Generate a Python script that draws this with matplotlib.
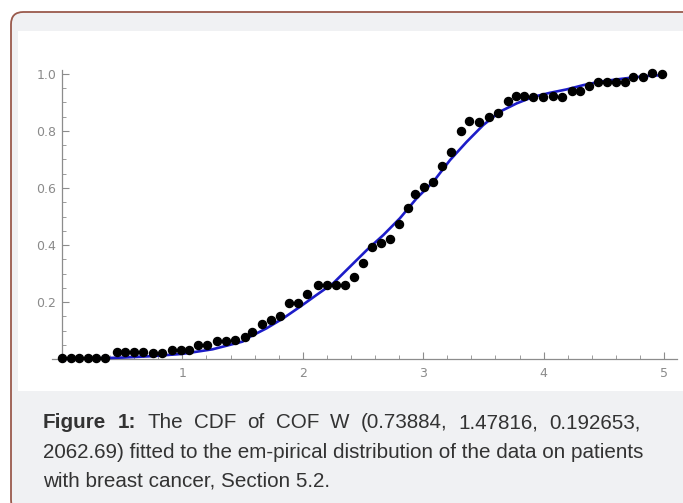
import matplotlib
matplotlib.use("Agg")
import matplotlib.pyplot as plt
from matplotlib.patches import FancyBboxPatch, Rectangle
from matplotlib import font_manager
import numpy as np

# ---------------- data ----------------
emp_x = [0.000, 0.071, 0.141, 0.212, 0.282, 0.353, 0.454, 0.523, 0.598, 0.673,
         0.756, 0.831, 0.911, 0.986, 1.057, 1.132, 1.207, 1.285, 1.362, 1.437,
         1.520, 1.578, 1.657, 1.733, 1.811, 1.885, 1.958, 2.032, 2.124, 2.199,
         2.276, 2.350, 2.425, 2.500, 2.572, 2.647, 2.724, 2.799, 2.876, 2.932,
         3.007, 3.084, 3.159, 3.231, 3.311, 3.383, 3.463, 3.546, 3.624, 3.702,
         3.768, 3.840, 3.915, 3.993, 4.076, 4.150, 4.233, 4.302, 4.377, 4.449,
         4.524, 4.601, 4.676, 4.745, 4.823, 4.898, 4.986]
emp_y = [0.004, 0.005, 0.005, 0.005, 0.005, 0.005, 0.023, 0.023, 0.023, 0.023,
         0.021, 0.021, 0.033, 0.033, 0.033, 0.049, 0.049, 0.063, 0.063, 0.067,
         0.078, 0.095, 0.123, 0.137, 0.152, 0.196, 0.196, 0.228, 0.260, 0.260,
         0.260, 0.260, 0.288, 0.337, 0.394, 0.408, 0.422, 0.474, 0.529, 0.579,
         0.605, 0.620, 0.678, 0.727, 0.800, 0.835, 0.833, 0.850, 0.864, 0.906,
         0.924, 0.924, 0.920, 0.920, 0.924, 0.920, 0.941, 0.941, 0.958, 0.973,
         0.971, 0.971, 0.971, 0.988, 0.988, 1.002, 1.000]

fit_x = [0.0, 0.25, 0.5, 0.75, 1.0, 1.25, 1.5, 1.561, 1.70, 1.838, 1.976, 2.115,
         2.253, 2.392, 2.531, 2.669, 2.807, 2.946, 3.084, 3.223, 3.361, 3.499,
         3.638, 3.777, 3.915, 4.053, 4.192, 4.330, 4.468, 4.607, 4.745, 4.884, 5.0]
fit_y = [0.0, 0.002, 0.005, 0.010, 0.018, 0.034, 0.061, 0.078, 0.108, 0.143, 0.183, 0.225,
         0.266, 0.324, 0.382, 0.435, 0.494, 0.564, 0.622, 0.698, 0.762, 0.821,
         0.868, 0.897, 0.920, 0.934, 0.946, 0.961, 0.973, 0.981, 0.988, 0.994, 0.996]

y_ticks = [0.2, 0.4, 0.6, 0.8, 1.0]
y_ticklabels = ["0.2", "0.4", "0.6", "0.8", "1.0"]
x_ticks = [1, 2, 3, 4, 5]
x_ticklabels = ["1", "2", "3", "4", "5"]

caption_bold = "Figure 1:"
caption_line1 = "The CDF of COF W (0.73884, 1.47816, 0.192653,"
caption_line2 = "2062.69) fitted to the em-pirical distribution of the data on patients"
caption_line3 = "with breast cancer, Section 5.2."

# ---------------- figure ----------------
W, H = 683, 503
fig = plt.figure(figsize=(W / 100, H / 100), dpi=100)
fig.patch.set_facecolor("white")


def fx(px):
    return px / W


def fy(py):
    return 1 - py / H


# rounded frame with light grey fill
frame = FancyBboxPatch((fx(11), fy(512)), fx(700) - fx(11), fy(12) - fy(512),
                       boxstyle="round,pad=0,rounding_size=0.018",
                       transform=fig.transFigure, facecolor="#f0f1f3",
                       edgecolor="#9a5a4c", linewidth=1.3, zorder=-2,
                       mutation_aspect=W / H)
fig.add_artist(frame)
# white chart panel
panel = Rectangle((fx(18), fy(391)), fx(700) - fx(18), fy(31) - fy(391),
                  transform=fig.transFigure, facecolor="white",
                  edgecolor="none", zorder=-1)
fig.add_artist(panel)

# axes placement (pixels): x=0 at 62, 120.4 px per unit; y=0 at 359, 285 px per unit
xmin, xmax = -0.08, 5.11
ymin, ymax = 0.0, 1.015
left = 62 + xmin * 120.4
right = 62 + xmax * 120.4
top = 359 - ymax * 285
bottom = 359
ax = fig.add_axes([fx(left), fy(bottom), fx(right) - fx(left), fy(top) - fy(bottom)])
ax.set_zorder(2)
ax.set_facecolor("none")
ax.set_xlim(xmin, xmax)
ax.set_ylim(ymin, ymax)

axis_col = "#8c8c8c"
for s in ["top", "right"]:
    ax.spines[s].set_visible(False)
ax.spines["left"].set_position(("data", 0))
ax.spines["left"].set_color(axis_col)
ax.spines["bottom"].set_color(axis_col)
ax.spines["left"].set_linewidth(0.9)
ax.spines["bottom"].set_linewidth(0.9)

ax.set_xticks(x_ticks)
ax.set_xticklabels(x_ticklabels)
ax.set_yticks(y_ticks)
ax.set_yticklabels(y_ticklabels)
ax.set_xticks(np.arange(0.2, 5.01, 0.2), minor=True)
ax.set_yticks(np.arange(0.05, 1.001, 0.05), minor=True)
ax.tick_params(which="major", direction="in", length=5, width=0.8, color=axis_col,
               labelcolor="#8a8a8a", labelsize=9)
ax.tick_params(which="minor", direction="in", length=2.8, width=0.6, color=axis_col)
ax.tick_params(axis="x", which="major", pad=6)
ax.tick_params(axis="y", which="major", pad=4)

ax.plot(fit_x, fit_y, color="#1c1cc8", linewidth=1.9, zorder=3, clip_on=False,
        solid_capstyle="round")
ax.plot(emp_x, emp_y, linestyle="none", marker="o", markersize=5.8,
        color="black", zorder=4, clip_on=False)

# ---------------- caption ----------------
avail = {f.name for f in font_manager.fontManager.ttflist}
cap_font = "Liberation Sans Narrow" if "Liberation Sans Narrow" in avail else "Liberation Sans"
cap_col = "#333333"

renderer = fig.canvas.get_renderer()


def width_px(t):
    bb = t.get_window_extent(renderer=renderer)
    return bb.width


# choose size so that line 2 spans 43..641
size = 13.0
t2 = fig.text(fx(43), fy(452), caption_line2, fontsize=size, family=cap_font,
              color=cap_col, va="center", ha="left")
w = width_px(t2)
size = size * (641 - 43) / w
t2.set_fontsize(size)

fig.text(fx(43), fy(481), caption_line3, fontsize=size, family=cap_font,
         color=cap_col, va="center", ha="left")

# first line justified between 43 and 641
words = [(caption_bold.split()[0], "bold"), (caption_bold.split()[1], "bold")] + \
        [(wd, "normal") for wd in caption_line1.split()]
texts = []
for wd, wt in words:
    t = fig.text(0, fy(423), wd, fontsize=size, family=cap_font, color=cap_col,
                 weight=wt, va="center", ha="left")
    texts.append(t)
widths = [width_px(t) for t in texts]
gap = ((641 - 43) - sum(widths)) / (len(texts) - 1)
x = 43
for t, wdt in zip(texts, widths):
    t.set_x(fx(x))
    x += wdt + gap

fig.savefig("out.png", dpi=100, facecolor=fig.get_facecolor())
